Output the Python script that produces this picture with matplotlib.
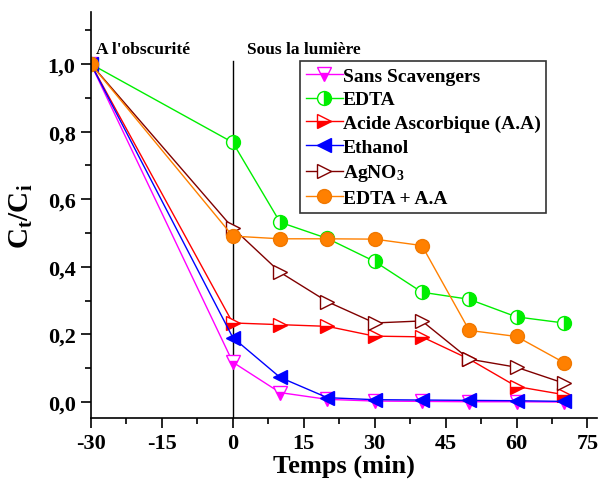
import matplotlib
matplotlib.use("Agg")
import matplotlib.pyplot as plt
from matplotlib.ticker import MultipleLocator, FuncFormatter

plt.rcParams['font.family'] = ['Liberation Serif', 'DejaVu Serif']
plt.rcParams['font.weight'] = 'bold'
plt.rcParams['axes.unicode_minus'] = False
plt.rcParams['mathtext.fontset'] = 'custom'
plt.rcParams['mathtext.rm'] = 'Liberation Serif:bold'
plt.rcParams['mathtext.it'] = 'Liberation Serif:bold'
plt.rcParams['mathtext.bf'] = 'Liberation Serif:bold'

time = [-30, 0, 10, 20, 30, 40, 50, 60, 70]

sans_scavengers = [1.0, 0.118, 0.028, 0.008, 0.003, 0.002, 0.001, 0.001, 0.0]
edta = [1.0, 0.768, 0.532, 0.484, 0.416, 0.325, 0.304, 0.252, 0.234]
acide_ascorbique = [1.0, 0.234, 0.229, 0.224, 0.195, 0.193, 0.127, 0.046, 0.022]
ethanol = [1.0, 0.191, 0.073, 0.013, 0.007, 0.006, 0.005, 0.004, 0.002]
agno3 = [1.0, 0.515, 0.384, 0.297, 0.234, 0.240, 0.127, 0.103, 0.056]
edta_aa = [1.0, 0.491, 0.483, 0.483, 0.482, 0.463, 0.212, 0.194, 0.117]

labels = ["Sans Scavengers", "EDTA", "Acide Ascorbique (A.A)", "Ethanol",
          r"AgNO$_3$", "EDTA + A.A"]

fig = plt.figure(figsize=(6.06, 4.81), dpi=100)
ax = fig.add_axes([0.150, 0.129, 0.835, 0.844])

ms = 10
ax.plot(time, sans_scavengers, color='#ff00ff', lw=1, marker='v', ms=ms,
        fillstyle='bottom', markerfacecoloralt='white', label=labels[0])
ax.plot(time, edta, color='#00ee00', lw=1, marker='o', ms=ms,
        fillstyle='right', markerfacecoloralt='white', label=labels[1])
ax.plot(time, acide_ascorbique, color='#ff0000', lw=1, marker='>', ms=ms,
        fillstyle='bottom', markerfacecoloralt='white', label=labels[2])
ax.plot(time, ethanol, color='#0000ff', lw=1, marker='<', ms=ms,
        label=labels[3])
ax.plot(time, agno3, color='#800000', lw=1, marker='>', ms=ms,
        markerfacecolor='white', label=labels[4])
ax.plot(time, edta_aa, color='#ff8000', lw=1, marker='o', ms=ms,
        markeredgecolor='#f07800', label=labels[5])

# separation between dark phase and illumination
ax.plot([0, 0], [-0.047, 1.01], color='black', lw=1, zorder=1)

ax.set_xlim(-30, 77)
ax.set_ylim(-0.047, 1.154)
ax.spines['top'].set_visible(False)
ax.spines['right'].set_visible(False)
ax.spines['left'].set_linewidth(1.2)
ax.spines['bottom'].set_linewidth(1.2)

ax.xaxis.set_major_locator(MultipleLocator(15))
ax.xaxis.set_minor_locator(MultipleLocator(7.5))
ax.yaxis.set_major_locator(MultipleLocator(0.2))
ax.yaxis.set_minor_locator(MultipleLocator(0.1))
ax.yaxis.set_major_formatter(FuncFormatter(lambda v, p: f"{abs(v):.1f}".replace('.', ',')))
ax.tick_params(which='major', direction='out', length=7, width=1.2, labelsize=16, pad=4)
ax.tick_params(which='minor', direction='out', length=4, width=1.2)

ax.set_xlabel("Temps (min)", fontsize=19, fontweight='bold', labelpad=0)
ax.set_ylabel(r"C$_t$/C$_i$", fontsize=21, fontweight='bold', labelpad=9)

ax.text(-29, 1.033, "A l'obscurité", fontsize=12.5, fontweight='bold')
ax.text(3.0, 1.033, "Sous la lumière", fontsize=12.5, fontweight='bold')

leg = ax.legend(loc='upper left', bbox_to_anchor=(0.413, 0.879), frameon=True,
                fancybox=False, edgecolor='black', fontsize=14,
                handlelength=1.9, handletextpad=0.0, borderpad=0.3,
                labelspacing=0.32, borderaxespad=0)
leg.get_frame().set_linewidth(1.2)
for t in leg.get_texts():
    t.set_fontweight('bold')

fig.savefig("out.png", dpi=100)
